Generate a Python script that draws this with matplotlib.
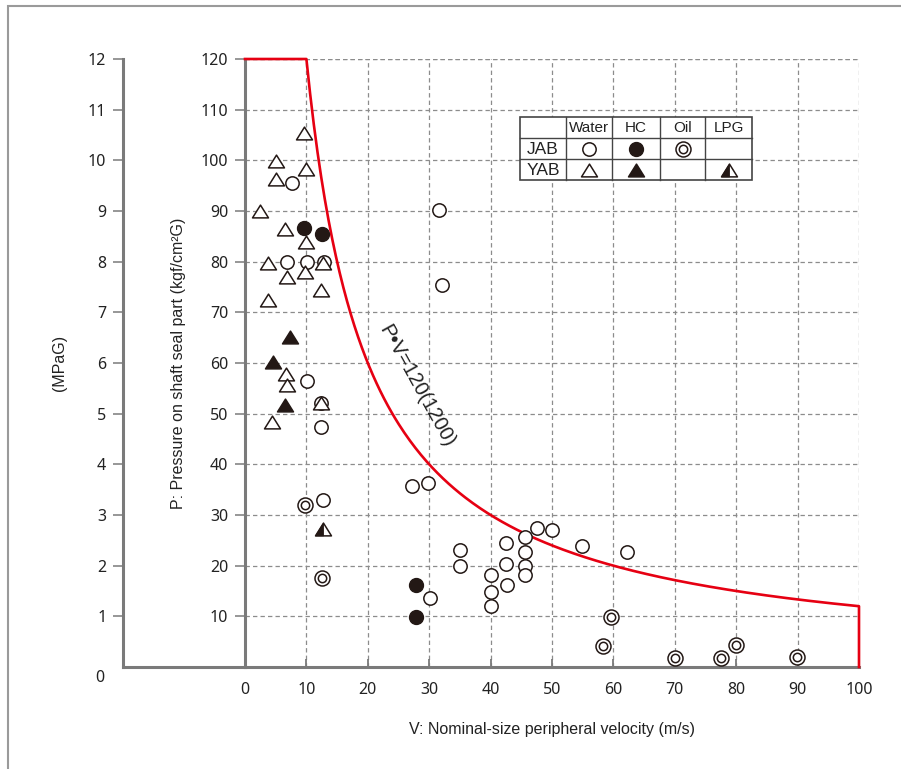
import numpy as np
import matplotlib
matplotlib.use("Agg")
import matplotlib.pyplot as plt
from matplotlib.patches import Rectangle
from matplotlib.lines import Line2D
from matplotlib.path import Path

# ---- data: V (m/s) and P (kgf/cm2G) ----
jab_water_v = [7.7, 6.8, 10.1, 12.9, 10.1, 12.4, 12.4, 12.7, 27.2, 29.8, 30.1, 31.6, 32.1,
               35.0, 35.0, 40.0, 40.0, 40.0, 42.5, 42.5, 42.7, 45.6, 45.6, 45.6, 45.6,
               47.6, 50.0, 54.9, 62.2]
jab_water_p = [95.5, 80.0, 80.0, 80.0, 56.4, 52.1, 47.4, 33.0, 35.7, 36.3, 13.6, 90.2, 75.4,
               23.1, 19.9, 18.2, 14.8, 12.0, 24.5, 20.3, 16.2, 25.7, 22.7, 19.9, 18.2,
               27.4, 27.0, 23.9, 22.7]

jab_hc_v = [9.6, 12.5, 27.9, 27.9]
jab_hc_p = [86.6, 85.5, 16.2, 9.9]

jab_oil_v = [9.8, 12.5, 59.6, 58.3, 70.0, 77.5, 80.0, 89.9]
jab_oil_p = [32.0, 17.6, 9.9, 4.2, 1.8, 1.8, 4.3, 2.0]

yab_water_v = [9.6, 5.0, 9.9, 5.0, 2.4, 6.5, 9.9, 3.7, 9.8, 12.7, 6.8, 12.4, 3.7,
               6.7, 6.8, 12.4, 4.4]
yab_water_p = [105.4, 99.9, 98.3, 96.3, 90.0, 86.4, 83.9, 79.7, 78.0, 79.7, 77.0, 74.4, 72.4,
               57.8, 55.7, 52.1, 48.4]

yab_hc_v = [7.3, 4.6, 6.5]
yab_hc_p = [65.1, 60.2, 51.7]

yab_lpg_v = [12.7]
yab_lpg_p = [27.2]

PV_LIMIT = 1200      # P*V limit in kgf/cm2G x m/s
P_MAX = 120
V_MAX = 100

x_ticks = list(range(0, 101, 10))
y_ticks = list(range(10, 121, 10))
mpa_ticks = list(range(1, 13))

table_cols = ["Water", "HC", "Oil", "LPG"]
table_rows = ["JAB", "YAB"]

# ---- style ----
W, H = 901, 769
INK = "#231815"
AXIS = "#7a7a7a"
GRID = "#8c8c8c"
RED = "#e60012"
TXT = "#222222"
TICK_FONT = ["Noto Sans", "DejaVu Sans"]
LABEL_FONT = ["Liberation Sans Narrow", "Liberation Sans", "DejaVu Sans"]
TABLE_FONT = ["Liberation Sans", "DejaVu Sans"]

tri = Path([(0, 0.8), (-1, -0.8), (1, -0.8), (0, 0.8)],
           [Path.MOVETO, Path.LINETO, Path.LINETO, Path.CLOSEPOLY])
half_tri = Path([(0, 0.8), (-1, -0.8), (0, -0.8), (0, 0.8)],
                [Path.MOVETO, Path.LINETO, Path.LINETO, Path.CLOSEPOLY])

STY = {
    "circle": dict(marker="o", ms=9.6, mfc="white", mec=INK, mew=1.1, ls="none"),
    "dot": dict(marker="o", ms=10.0, mfc=INK, mec=INK, mew=1.0, ls="none"),
    "ring_out": dict(marker="o", ms=10.8, mfc="white", mec=INK, mew=1.1, ls="none"),
    "ring_in": dict(marker="o", ms=6.0, mfc="none", mec=INK, mew=1.1, ls="none"),
    "tri": dict(marker=tri, ms=11.5, mfc="white", mec=INK, mew=1.1, ls="none"),
    "tri_fill": dict(marker=tri, ms=11.5, mfc=INK, mec=INK, mew=1.1, ls="none"),
    "tri_half": dict(marker=half_tri, ms=11.5, mfc=INK, mec=INK, mew=0.6, ls="none"),
}

fig = plt.figure(figsize=(W / 100, H / 100), dpi=100)


def fpx(x, y):
    return x / W, 1 - y / H


# outer frame
fig.add_artist(Rectangle(fpx(8, 800), 2.0, (800 - 6) / H, transform=fig.transFigure,
                         fill=False, ec="#9a9a9a", lw=1.5))

# ---- main axes ----
L, R, T, B = 245, 859, 59, 667
ax = fig.add_axes([L / W, 1 - B / H, (R - L) / W, (B - T) / H])
ax.set_xlim(0, V_MAX)
ax.set_ylim(0, P_MAX)
for s in ("top", "right"):
    ax.spines[s].set_visible(False)
for s in ("left", "bottom"):
    ax.spines[s].set_color(AXIS)
    ax.spines[s].set_linewidth(2.2)
ax.set_xticks(x_ticks)
ax.set_yticks(y_ticks)
ax.tick_params(axis="x", direction="in", length=6, width=1.3, color=AXIS, pad=11,
               labelsize=11.5, labelcolor=TXT)
ax.tick_params(axis="y", direction="out", length=7, width=1.1, color=AXIS, pad=5,
               labelsize=11.5, labelcolor=TXT)
for lab in ax.get_xticklabels() + ax.get_yticklabels():
    lab.set_fontfamily(TICK_FONT)
ax.grid(True, color=GRID, ls=(0, (3.5, 2.5)), lw=0.9)
ax.set_axisbelow(True)
# grid line along the top edge
ax.axhline(P_MAX, color=GRID, ls=(0, (3.5, 2.5)), lw=0.9, zorder=0.5)

# P*V limit curve
v = np.linspace(PV_LIMIT / P_MAX, V_MAX, 300)
cv = np.concatenate([[0], v, [V_MAX]])
cp = np.concatenate([[P_MAX], PV_LIMIT / v, [0]])
ax.plot(cv, cp, color=RED, lw=1.9, clip_on=False, zorder=3)
ax.text(27.9, 55.5, "P•V=120(1200)", rotation=-61, ha="center", va="center",
        fontsize=14.5, family=TABLE_FONT, color=TXT, rotation_mode="anchor", zorder=4)

# points
ax.plot(jab_water_v, jab_water_p, zorder=5, **STY["circle"])
ax.plot(yab_water_v, yab_water_p, zorder=6, **STY["tri"])
ax.plot(jab_hc_v, jab_hc_p, zorder=5, **STY["dot"])
ax.plot(jab_oil_v, jab_oil_p, zorder=5, **STY["ring_out"])
ax.plot(jab_oil_v, jab_oil_p, zorder=5.1, **STY["ring_in"])
ax.plot(yab_hc_v, yab_hc_p, zorder=5, **STY["tri_fill"])
ax.plot(yab_lpg_v, yab_lpg_p, zorder=5, **STY["tri"])
ax.plot(yab_lpg_v, yab_lpg_p, zorder=5.1, **STY["tri_half"])

ax.set_xlabel("V: Nominal-size peripheral velocity (m/s)", fontsize=11.5,
              family=LABEL_FONT, labelpad=17, color=TXT)

# ---- MPa axis ----
ML = 123
ax2 = fig.add_axes([ML / W, 1 - B / H, (L - ML) / W, (B - T) / H])
ax2.set_xlim(0, 1)
ax2.set_ylim(0, P_MAX / 10)
ax2.patch.set_alpha(0)
for s in ("top", "right"):
    ax2.spines[s].set_visible(False)
for s in ("left", "bottom"):
    ax2.spines[s].set_color(AXIS)
    ax2.spines[s].set_linewidth(2.2)
ax2.set_xticks([])
ax2.set_yticks(mpa_ticks)
ax2.tick_params(axis="y", direction="out", length=7, width=1.1, color=AXIS, pad=5,
                labelsize=11.5, labelcolor=TXT)
for lab in ax2.get_yticklabels():
    lab.set_fontfamily(TICK_FONT)
fig.text(*fpx(104, 678), "0", ha="right", va="center", fontsize=11.5,
         family=TICK_FONT, color=TXT)

fig.text(*fpx(60, 363), "(MPaG)", rotation=90, ha="center", va="center",
         fontsize=11.5, family=LABEL_FONT, color=TXT)
fig.text(*fpx(178, 363), "P: Pressure on shaft seal part (kgf/cm²G)", rotation=90,
         ha="center", va="center", fontsize=11.5, family=LABEL_FONT, color=TXT)

# ---- symbol table ----
xs = [520, 566, 612, 660, 705, 752]
ys = [117, 138, 159, 180]
fig.add_artist(Rectangle(fpx(xs[0], ys[-1]), (xs[-1] - xs[0]) / W, (ys[-1] - ys[0]) / H,
                         transform=fig.transFigure, fc="white", ec="#444444", lw=1.2,
                         zorder=10))
for x in xs[1:-1]:
    fig.add_artist(Line2D([x / W] * 2, [1 - ys[0] / H, 1 - ys[-1] / H],
                          transform=fig.transFigure, color="#444444", lw=1.0, zorder=11))
for y in ys[1:-1]:
    fig.add_artist(Line2D([xs[0] / W, xs[-1] / W], [1 - y / H] * 2,
                          transform=fig.transFigure, color="#444444", lw=1.0, zorder=11))
for i, name in enumerate(table_cols):
    cx = (xs[i + 1] + xs[i + 2]) / 2
    fig.text(*fpx(cx, (ys[0] + ys[1]) / 2 + 1), name, ha="center", va="center",
             fontsize=11, family=TABLE_FONT, color=TXT, zorder=12)
for j, name in enumerate(table_rows):
    cy = (ys[j + 1] + ys[j + 2]) / 2 + 1
    fig.text(*fpx((xs[0] + xs[1]) / 2, cy), name, ha="center", va="center",
             fontsize=12.5, family=TABLE_FONT, color=TXT, zorder=12)

cells = {
    (0, 0): ["circle"], (0, 1): ["dot"], (0, 2): ["ring_out", "ring_in"],
    (1, 0): ["tri"], (1, 1): ["tri_fill"], (1, 3): ["tri", "tri_half"],
}
for (r, c), keys in cells.items():
    cx = (xs[c + 1] + xs[c + 2]) / 2
    cy = (ys[r + 1] + ys[r + 2]) / 2
    for k in keys:
        fig.add_artist(Line2D([cx / W], [1 - cy / H], transform=fig.transFigure,
                              zorder=13, **STY[k]))

fig.savefig("out.png", dpi=100, facecolor="white")
